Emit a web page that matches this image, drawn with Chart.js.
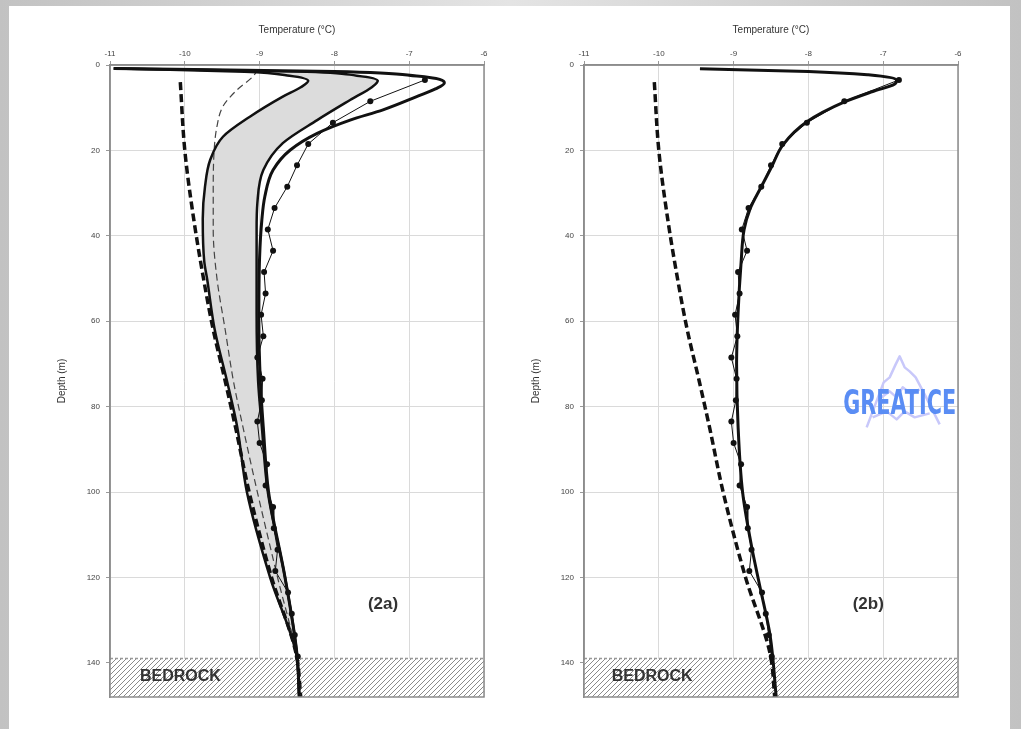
<!DOCTYPE html>
<html>
<head>
<meta charset="utf-8">
<script src="https://cdn.jsdelivr.net/npm/chart.js@4.4.0/dist/chart.umd.min.js"></script>
<style>
    html, body { margin: 0; padding: 0; }
    body {
        width: 1021px; height: 729px; position: relative; overflow: hidden;
        background: linear-gradient(to right, #c2c2c2, #e4e4e4 50%, #c2c2c2);
    }
    #page { position: absolute; left: 9px; top: 6px; width: 1001px; height: 723px; background: #fff; }
    .box { position: absolute; top: 10px; width: 470px; height: 700px; }
    #boxA { left: 30px; }
    #boxB { left: 504px; }
</style>
</head>
<body>
<div id="page"></div>
<div class="box" id="boxA"><canvas id="chartA" width="470" height="700"></canvas></div>
<div class="box" id="boxB"><canvas id="chartB" width="470" height="700"></canvas></div>
<script>
// Axis ranges (temperature on top, depth downwards)
const tempMin = -11, tempMax = -6;
const depthMin = 0, depthMax = 148;
const bedrockTop = 139;

// Measured borehole temperatures (dots), both panels
const measDepth = [3.5, 8.5, 13.5, 18.5, 23.5, 28.5, 33.5, 38.5, 43.5, 48.5, 53.5, 58.5, 63.5, 68.5,
    73.5, 78.5, 83.5, 88.5, 93.5, 98.5, 103.5, 108.5, 113.5, 118.5, 123.5, 128.5, 133.5, 138.5];
const measTemp = [-6.79, -7.52, -8.02, -8.35, -8.5, -8.63, -8.8, -8.89, -8.82, -8.94, -8.92, -8.98, -8.95, -9.03,
    -8.96, -8.97, -9.03, -9.0, -8.9, -8.92, -8.82, -8.81, -8.76, -8.79, -8.62, -8.57, -8.53, -8.49];

// Initial profile (thick dashed), both panels
const initDepth = [4, 20, 35, 50, 62, 74, 85, 100, 120, 138, 148];
const initTemp = [-10.06, -10.0, -9.89, -9.75, -9.62, -9.46, -9.32, -9.14, -8.84, -8.51, -8.45];

// (2a) thin dashed profile
const thinDepth = [1, 2.7, 5.8, 9.7, 14.4, 20.7, 30, 38.6, 50, 62, 74, 85, 100, 120, 138, 148];
const thinTemp = [-9.02, -9.09, -9.3, -9.49, -9.57, -9.61, -9.62, -9.62, -9.57, -9.46, -9.35, -9.22, -9.03, -8.76, -8.51, -8.45];

// (2a) lower edge of the grey band
const bandLowDepth = [0.8, 1.6, 2.5, 3.7, 5.2, 7.4, 12.1, 16.8, 22.2, 28.5, 36, 46, 50.3, 62, 73.7, 84.7, 100, 120, 138, 148];
const bandLowTemp = [-10.95, -9.2, -8.6, -8.35, -8.45, -8.69, -9.13, -9.49, -9.66, -9.73, -9.76, -9.74, -9.7, -9.6, -9.44, -9.3, -9.17, -8.86, -8.51, -8.47];

// (2a) upper edge of the grey band
const bandHighDepth = [0.8, 1.5, 2.5, 3.7, 5.2, 8.2, 12.9, 18.3, 24.6, 32.4, 38.6, 58, 74, 84.7, 100, 120, 138, 148];
const bandHighTemp = [-10.95, -8.5, -7.7, -7.42, -7.5, -7.79, -8.23, -8.69, -8.95, -9.03, -9.04, -9.04, -9.02, -8.97, -8.89, -8.66, -8.5, -8.47];

// (2a) outer thick profile
const outerDepth = [0.8, 1.5, 2.6, 4.2, 5.6, 7.4, 10.5, 12.9, 16, 19.9, 24.6, 30.8, 36.3, 45, 60, 74, 85, 100, 120, 138, 148];
const outerTemp = [-10.95, -8.0, -6.9, -6.53, -6.65, -6.9, -7.35, -7.79, -8.23, -8.59, -8.82, -8.93, -8.97, -9.0, -9.01, -8.99, -8.95, -8.88, -8.66, -8.5, -8.47];

// (2b) modelled profile
const modelDepth = [0.9, 1.5, 2.3, 3.5, 4.5, 6.2, 8.6, 13.3, 18.7, 23.8, 28.5, 33.7, 38.6, 46.3, 58, 70, 84.7, 100, 112.7, 122, 133.8, 148];
const modelTemp = [-9.45, -8.0, -7.2, -6.82, -6.85, -7.14, -7.51, -8.02, -8.34, -8.49, -8.63, -8.78, -8.86, -8.9, -8.94, -8.96, -8.94, -8.88, -8.76, -8.65, -8.51, -8.43];

Chart.defaults.font.family = '"Liberation Sans", Arial, sans-serif';

function toPoints(temps, depths) {
    return temps.map((t, i) => ({ x: t, y: depths[i] }));
}

// Diagonal hatch for the bedrock
function makeHatch() {
    const c = document.createElement('canvas');
    c.width = 5; c.height = 5;
    const g = c.getContext('2d');
    g.fillStyle = '#fff';
    g.fillRect(0, 0, 5, 5);
    g.strokeStyle = '#8a8a8a';
    g.lineWidth = 1;
    g.beginPath();
    g.moveTo(0, 5); g.lineTo(5, 0);
    g.moveTo(-1, 1); g.lineTo(1, -1);
    g.moveTo(4, 6); g.lineTo(6, 4);
    g.stroke();
    return g.createPattern(c, 'repeat');
}

function curve(temps, depths, extra) {
    return Object.assign({
        data: toPoints(temps, depths),
        borderColor: '#111',
        borderWidth: 2.5,
        pointRadius: 0,
        fill: false,
        cubicInterpolationMode: 'monotone'
    }, extra);
}

function bedrockSets() {
    return [
        {
            data: toPoints([tempMax, tempMax], [bedrockTop, depthMax]),
            borderWidth: 0, pointRadius: 0, tension: 0,
            backgroundColor: makeHatch(),
            fill: { value: tempMin }
        },
        {
            data: toPoints([tempMin, tempMax], [bedrockTop, bedrockTop]),
            borderColor: '#999', borderWidth: 1.5, borderDash: [3, 2],
            pointRadius: 0, tension: 0, fill: false
        }
    ];
}

// Frame, panel label, BEDROCK text, logo
const decorPlugin = {
    id: 'decor',
    afterDatasetsDraw(chart, args, opts) {
        const { ctx, chartArea: a, scales: { x, y } } = chart;
        ctx.save();
        ctx.strokeStyle = '#8c8c8c';
        ctx.lineWidth = 1.5;
        ctx.strokeRect(a.left, a.top, a.right - a.left, a.bottom - a.top);

        ctx.fillStyle = '#333';
        ctx.textBaseline = 'middle';
        ctx.font = 'bold 17px "Liberation Sans", Arial';
        ctx.textAlign = 'center';
        ctx.fillText(opts.panel, x.getPixelForValue(opts.panelAt[0]), y.getPixelForValue(opts.panelAt[1]));
        ctx.font = 'bold 16px "Liberation Sans", Arial';
        ctx.textAlign = 'left';
        ctx.fillText('BEDROCK', x.getPixelForValue(opts.rockAt[0]), y.getPixelForValue(opts.rockAt[1]));

        if (opts.logoAt) {
            const cx = x.getPixelForValue(opts.logoAt[0]);
            const cy = y.getPixelForValue(opts.logoAt[1]);
            ctx.strokeStyle = '#c8c8fa';
            ctx.lineWidth = 2.5;
            ctx.lineJoin = 'round';
            ctx.beginPath();
            ctx.moveTo(cx - 33, cy + 25); ctx.lineTo(cx - 16, cy - 20); ctx.lineTo(cx - 10, cy - 25);
            ctx.lineTo(cx - 4, cy - 38); ctx.lineTo(cx, cy - 46); ctx.lineTo(cx + 5, cy - 35);
            ctx.lineTo(cx + 10, cy - 31); ctx.lineTo(cx + 16, cy - 25); ctx.lineTo(cx + 25, cy - 8);
            ctx.lineTo(cx + 40, cy + 22);
            ctx.moveTo(cx - 22, cy - 2); ctx.lineTo(cx - 10, cy - 11); ctx.lineTo(cx - 3, cy - 5);
            ctx.lineTo(cx + 3, cy - 15); ctx.lineTo(cx + 12, cy - 8); ctx.lineTo(cx + 20, cy - 13);
            ctx.moveTo(cx - 27, cy + 15); ctx.lineTo(cx - 13, cy + 9); ctx.lineTo(cx - 3, cy + 17);
            ctx.lineTo(cx + 5, cy + 9); ctx.lineTo(cx + 15, cy + 15); ctx.lineTo(cx + 30, cy + 11);
            ctx.stroke();

            ctx.font = 'bold 34px "DejaVu Sans", sans-serif';
            const w = ctx.measureText('GREATICE').width;
            ctx.translate(cx, cy);
            ctx.scale(113 / w, 1);
            ctx.textAlign = 'center';
            ctx.fillStyle = '#5a8df4';
            ctx.fillText('GREATICE', 0, 3);
        }
        ctx.restore();
    }
};

function buildChart(canvasId, datasets, decor) {
    return new Chart(document.getElementById(canvasId), {
        type: 'line',
        data: { datasets: datasets },
        plugins: [decorPlugin],
        options: {
            responsive: false,
            animation: false,
            indexAxis: 'y',
            layout: { padding: { left: 0, right: 16, top: 0, bottom: 13 } },
            plugins: {
                legend: { display: false },
                tooltip: { enabled: false },
                filler: { drawTime: 'beforeDatasetsDraw' },
                decor: decor
            },
            scales: {
                x: {
                    type: 'linear',
                    position: 'top',
                    min: tempMin, max: tempMax,
                    afterFit: s => { s.height = 55; },
                    ticks: { stepSize: 1, color: '#444', font: { size: 8 }, padding: 2 },
                    grid: { color: '#dadada', tickColor: '#999', tickLength: 4 },
                    border: { color: '#8c8c8c', width: 1.5 },
                    title: { display: true, text: 'Temperature (°C)', color: '#333', font: { size: 10 }, padding: { top: 14 } }
                },
                y: {
                    type: 'linear',
                    reverse: true,
                    min: depthMin, max: depthMax,
                    afterFit: s => { s.width = 80; },
                    ticks: { stepSize: 20, includeBounds: false, color: '#444', font: { size: 8 }, padding: 6 },
                    grid: { color: '#dadada', tickColor: '#999', tickLength: 4 },
                    border: { color: '#8c8c8c', width: 1.5 },
                    title: { display: true, text: 'Depth (m)', color: '#333', font: { size: 10 }, padding: { top: 26 } }
                }
            }
        }
    });
}

// Panel (2a)
buildChart('chartA', [
    curve(measTemp, measDepth, { borderWidth: 1, pointRadius: 3, pointBackgroundColor: '#111', pointBorderWidth: 0, cubicInterpolationMode: 'default', tension: 0 }),
    curve(outerTemp, outerDepth, { borderWidth: 3 }),
    curve(bandHighTemp, bandHighDepth, { borderWidth: 2.5 }),
    curve(bandLowTemp, bandLowDepth, { borderWidth: 2.5, fill: 2, backgroundColor: '#dcdcdc' }),
    curve(thinTemp, thinDepth, { borderWidth: 1.2, borderDash: [7, 4], borderColor: '#444' }),
    curve(initTemp, initDepth, { borderWidth: 3.5, borderDash: [8, 4] }),
    ...bedrockSets()
], { panel: '(2a)', panelAt: [-7.35, 126.3], rockAt: [-10.6, 143.3] });

// Panel (2b)
buildChart('chartB', [
    curve(measTemp, measDepth, { borderWidth: 1, pointRadius: 3, pointBackgroundColor: '#111', pointBorderWidth: 0, cubicInterpolationMode: 'default', tension: 0 }),
    curve(modelTemp, modelDepth, { borderWidth: 3 }),
    curve(initTemp, initDepth, { borderWidth: 3.5, borderDash: [8, 4] }),
    ...bedrockSets()
], { panel: '(2b)', panelAt: [-7.2, 126.3], rockAt: [-10.63, 143.3], logoAt: [-6.78, 79] });
</script>
</body>
</html>
